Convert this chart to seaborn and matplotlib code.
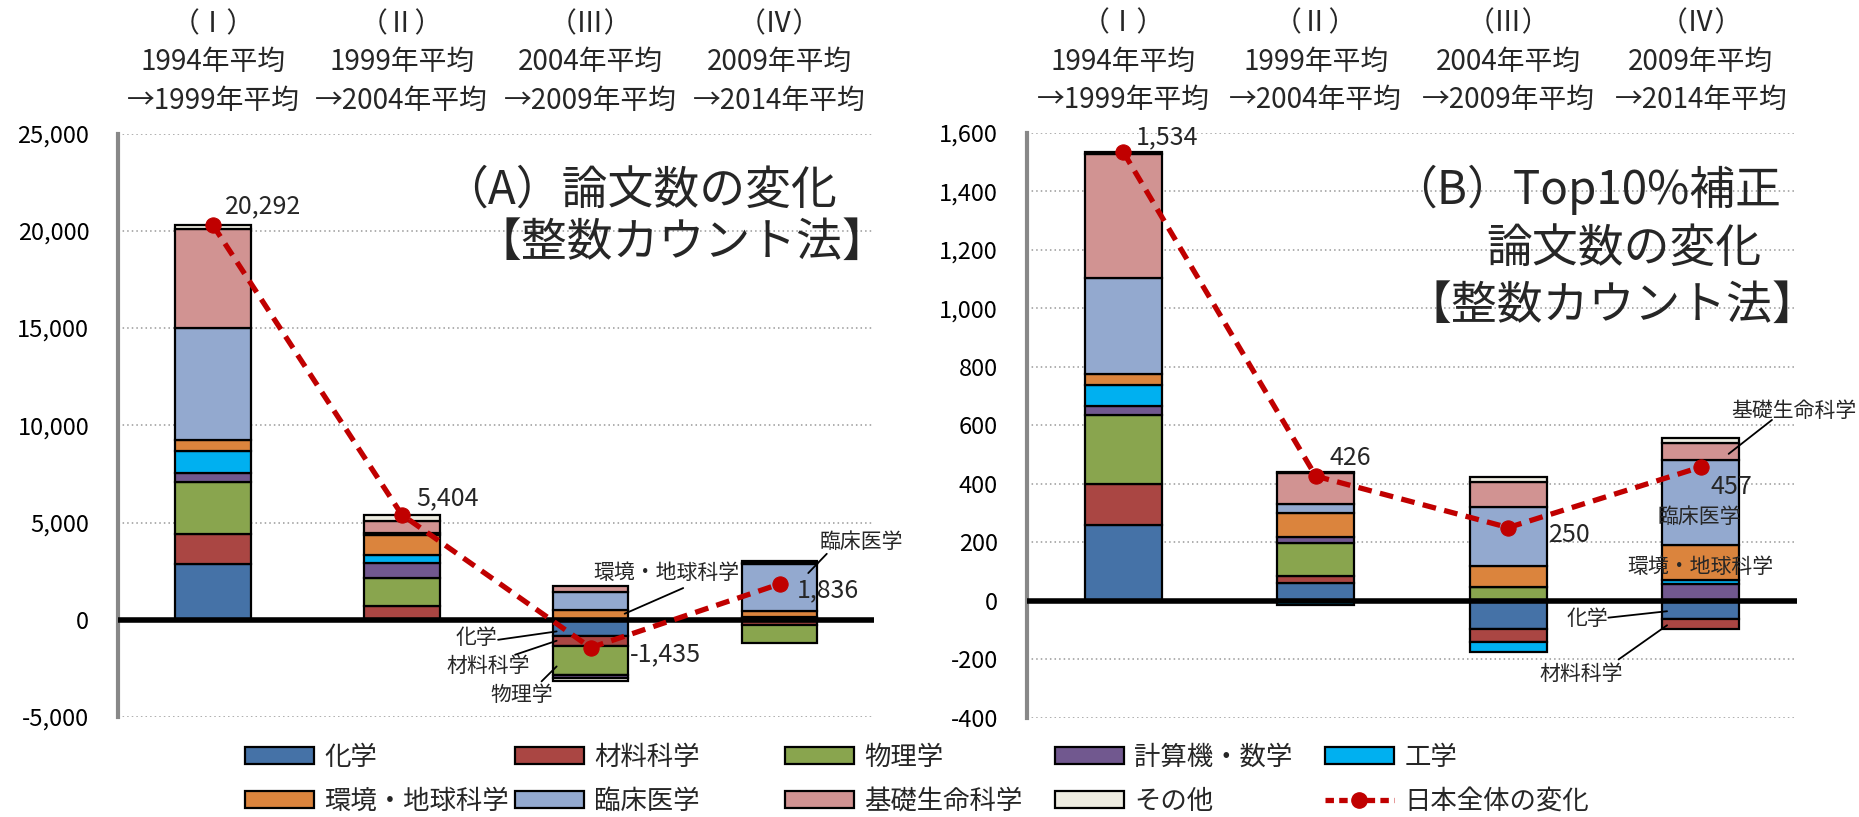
import matplotlib
matplotlib.use("Agg")
import matplotlib.pyplot as plt
from matplotlib.patches import Patch
from matplotlib.lines import Line2D
import numpy as np
import seaborn as sns

# ---- data ----
periods = ["（Ⅰ）\n1994年平均\n→1999年平均", "（Ⅱ）\n1999年平均\n→2004年平均",
           "（Ⅲ）\n2004年平均\n→2009年平均", "（Ⅳ）\n2009年平均\n→2014年平均"]
fields = ["化学", "材料科学", "物理学", "計算機・数学", "工学",
          "環境・地球科学", "臨床医学", "基礎生命科学", "その他"]
colors = ["#4572A7", "#AA4643", "#89A54E", "#71588F", "#00B0F0",
          "#DB843D", "#93A9CF", "#D19392", "#EEECE1"]
line_color = "#C00000"

# (A) 論文数の変化
a_chem = [2860, 0, -855, -80]
a_material = [1540, 720, -515, -170]
a_physics = [2690, 1450, -1490, -950]
a_computer = [445, 740, -120, 150]
a_engineering = [1150, 400, 0, 0]
a_env = [550, 1060, 515, 310]
a_clinical = [5755, 80, 910, 2400]
a_basic = [5090, 650, 290, 80]
a_other = [212, 304, -170, 96]
a_total = [20292, 5404, -1435, 1836]

# (B) Top10%補正論文数の変化
b_chem = [260, 59, -98, -64]
b_material = [139, 24, -42, -34]
b_physics = [236, 114, 46, 0]
b_computer = [32, 22, 0, 57]
b_engineering = [71, -15, -34, 14]
b_env = [38, 80, 71, 118]
b_clinical = [328, 30, 202, 291]
b_basic = [422, 107, 87, 59]
b_other = [8, 5, 18, 16]
b_total = [1534, 426, 250, 457]

a_series = [a_chem, a_material, a_physics, a_computer, a_engineering,
            a_env, a_clinical, a_basic, a_other]
b_series = [b_chem, b_material, b_physics, b_computer, b_engineering,
            b_env, b_clinical, b_basic, b_other]

sns.set_style("white")
plt.rcParams['font.family'] = ['Noto Sans CJK JP', 'DejaVu Sans']

W, H = 1859, 817
fig = plt.figure(figsize=(W / 100, H / 100), dpi=100)
ax_a = fig.add_axes([118.4 / W, 1 - 717 / H, (874 - 118.4) / W, (717 - 133.5) / H])
ax_b = fig.add_axes([1027 / W, 1 - 717.7 / H, (1797 - 1027) / W, (717.7 - 132.7) / H])


def draw_panel(ax, series, totals, ylim, step):
    x = np.arange(len(periods))
    pos_bottom = np.zeros(len(periods))
    neg_bottom = np.zeros(len(periods))
    for vals, col in zip(series, colors):
        vals = np.array(vals, dtype=float)
        bottom = np.where(vals >= 0, pos_bottom, neg_bottom)
        ax.bar(x, vals, width=0.4, bottom=bottom, color=col,
               edgecolor="black", linewidth=1.6, zorder=2)
        pos_bottom += np.where(vals >= 0, vals, 0)
        neg_bottom += np.where(vals < 0, vals, 0)
    ax.axhline(0, color="black", lw=4, zorder=3)
    sns.lineplot(x=x, y=totals, ax=ax, color=line_color, linewidth=3.8,
                 linestyle=(0, (2.6, 1.6)), marker="o", markersize=11,
                 markeredgecolor=line_color, zorder=5, legend=False)

    ax.set_xlim(-0.5, 3.5)
    ax.set_ylim(*ylim)
    ax.set_yticks(np.arange(ylim[0], ylim[1] + step, step))
    ax.yaxis.set_major_formatter(matplotlib.ticker.FuncFormatter(lambda v, p: f"{int(v):,}"))
    ax.yaxis.grid(True, linestyle=(0, (1, 2)), color="#999999", lw=1.1)
    ax.set_axisbelow(True)
    for s in ["top", "right", "bottom"]:
        ax.spines[s].set_visible(False)
    ax.spines["left"].set_color("#888888")
    ax.spines["left"].set_linewidth(3)
    ax.tick_params(axis="y", colors="#888888", length=6, width=3, pad=15,
                   labelcolor="black", labelsize=17)
    ax.xaxis.tick_top()
    ax.set_xticks(x)
    ax.set_xticklabels(periods, fontsize=20, linespacing=1.35)
    ax.tick_params(axis="x", length=0, pad=13)
    ax.set_xlabel("")
    ax.set_ylabel("")


draw_panel(ax_a, a_series, a_total, (-5000, 25000), 5000)
draw_panel(ax_b, b_series, b_total, (-400, 1600), 200)

# value labels
val_fs = 18
for xv, yv, s in [(0.064, 21240, "20,292"), (1.075, 6250, "5,404"),
                  (2.208, -1800, "-1,435"), (3.091, 1540, "1,836")]:
    ax_a.text(xv, yv, s, fontsize=val_fs, ha="left", va="center", zorder=6)
for xv, yv, s in [(0.066, 1583, "1,534"), (1.074, 487, "426"),
                  (2.214, 224, "250"), (3.053, 390, "457")]:
    ax_b.text(xv, yv, s, fontsize=val_fs, ha="left", va="center", zorder=6)

# leader labels
lab_fs = 15
for xv, yv, s, line in [
        (2.40, 2400, "環境・地球科学", ((2.49, 1630), (2.18, 310))),
        (3.43, 4020, "臨床医学", ((3.25, 3390), (3.152, 2400))),
        (1.396, -940, "化学", ((1.51, -1030), (1.82, -600))),
        (1.458, -2400, "材料科学", ((1.60, -1800), (1.82, -1080))),
        (1.634, -3850, "物理学", ((1.74, -3170), (1.82, -2400)))]:
    ax_a.text(xv, yv, s, fontsize=lab_fs, ha="center", va="center", zorder=6)
    ax_a.plot([line[0][0], line[1][0]], [line[0][1], line[1][1]],
              color="black", lw=1.3, zorder=6)

for xv, yv, s, line in [
        (3.486, 647, "基礎生命科学", ((3.37, 618), (3.145, 502))),
        (2.99, 287, "臨床医学", None),
        (3.0, 116, "環境・地球科学", None),
        (2.41, -61, "化学", ((2.52, -58), (2.825, -36))),
        (2.38, -249, "材料科学", ((2.573, -201), (2.825, -84)))]:
    ax_b.text(xv, yv, s, fontsize=lab_fs, ha="center", va="center", zorder=6)
    if line:
        ax_b.plot([line[0][0], line[1][0]], [line[0][1], line[1][1]],
                  color="black", lw=1.3, zorder=6)

# panel titles
t_fs = 33
fig.text(640 / W, 1 - 190 / H, "（A）論文数の変化", fontsize=t_fs, ha="center", va="center")
fig.text(682 / W, 1 - 243 / H, "【整数カウント法】", fontsize=t_fs, ha="center", va="center")
fig.text(1586 / W, 1 - 190 / H, "（B）Top10%補正", fontsize=t_fs, ha="center", va="center")
fig.text(1624 / W, 1 - 249 / H, "論文数の変化", fontsize=t_fs, ha="center", va="center")
fig.text(1612 / W, 1 - 306 / H, "【整数カウント法】", fontsize=t_fs, ha="center", va="center")

# legend: one small legend per column so columns are evenly spaced
handles = [Patch(facecolor=c, edgecolor="black", linewidth=1.6) for c in colors]
handles.append(Line2D([0], [0], color=line_color, lw=3.8, linestyle=(0, (1.6, 1.0)),
                      marker="o", markersize=11))
labels = fields + ["日本全体の変化"]
col_x = [245, 515, 785, 1055, 1325]
for j, cx in enumerate(col_x):
    fig.legend([handles[j], handles[j + 5]], [labels[j], labels[j + 5]],
               loc="upper left", bbox_to_anchor=(cx / W, 1 - 744 / H),
               frameon=False, fontsize=19, handlelength=2.6, handleheight=0.6,
               handletextpad=0.4, labelspacing=0.65, borderpad=0, borderaxespad=0)

fig.savefig("out.png", dpi=100)
